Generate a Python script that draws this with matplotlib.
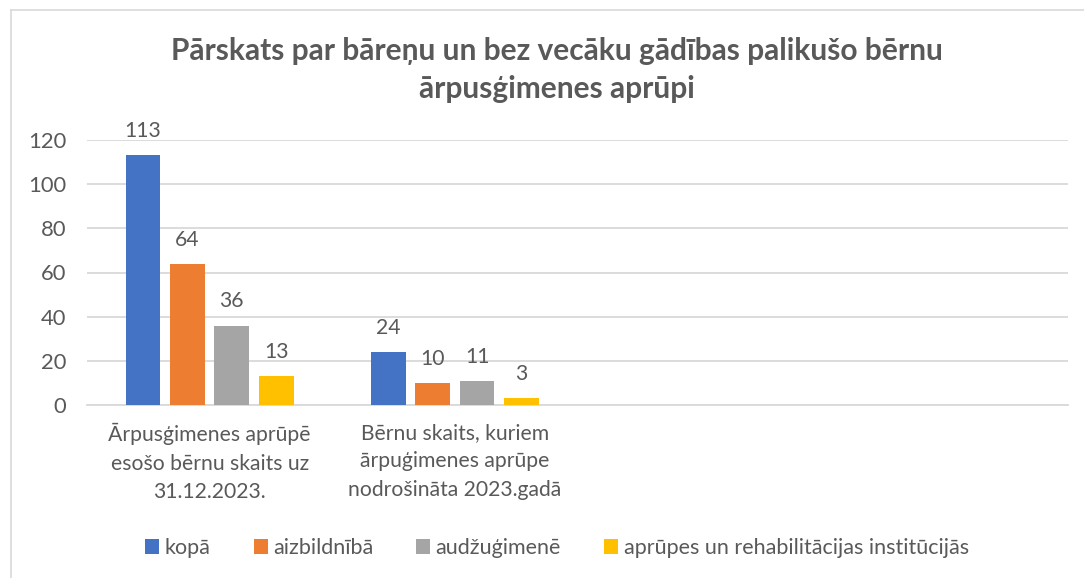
import matplotlib
matplotlib.use("Agg")
import matplotlib.pyplot as plt
from matplotlib.patches import Patch
from matplotlib.lines import Line2D
import numpy as np

plt.rcParams['font.family'] = ['Lato', 'DejaVu Sans']

title = "Pārskats par bāreņu un bez vecāku gādības palikušo bērnu\nārpusģimenes aprūpi"
categories = [
    "Ārpusģimenes aprūpē\nesošo bērnu skaits uz\n31.12.2023.",
    "Bērnu skaits, kuriem\nārpuģimenes aprūpe\nnodrošināta 2023.gadā",
]
series_names = ["kopā", "aizbildnībā", "audžuģimenē", "aprūpes un rehabilitācijas institūcijās"]
values_kopa = [113, 24]
values_aizbildniba = [64, 10]
values_audzugimene = [36, 11]
values_institucijas = [13, 3]
colors = ["#4472C4", "#ED7D31", "#A5A5A5", "#FFC000"]
yticks = [0, 20, 40, 60, 80, 100, 120]

series = [values_kopa, values_aizbildniba, values_audzugimene, values_institucijas]
TXT = "#595959"
W, H = 1084, 578
FS = 15.2

fig = plt.figure(figsize=(W / 100, H / 100), dpi=100)
ax = fig.add_axes([87 / W, 1 - 405 / H, (1068 - 87) / W, (405 - 140) / H])

x = np.arange(len(categories))
step = 0.181
bw = 0.142
for i, (vals, col) in enumerate(zip(series, colors)):
    pos = x + (i - 1.5) * step
    bars = ax.bar(pos, vals, width=bw, color=col, zorder=3)
    for b, v in zip(bars, vals):
        ax.annotate(str(v), (b.get_x() + b.get_width() / 2, v), xytext=(0, 13),
                    textcoords="offset points", ha="center", va="baseline",
                    fontsize=FS, color=TXT)

ax.set_xlim(-0.5, 3.5)
ax.set_ylim(0, 120)
ax.set_yticks(yticks)
ax.set_xticks(x)
ax.set_xticklabels(categories, fontsize=FS, color=TXT, linespacing=1.52)
ax.tick_params(axis='both', length=0, labelcolor=TXT)
ax.tick_params(axis='y', labelsize=15.8, pad=15)
ax.tick_params(axis='x', pad=13)
ax.grid(axis='y', color="#D9D9D9", linewidth=1.3, zorder=0)
for s in ["top", "right", "left"]:
    ax.spines[s].set_visible(False)
ax.spines["bottom"].set_color("#D9D9D9")
ax.spines["bottom"].set_linewidth(1.3)

fig.text(557 / W, 1 - 70 / H, title, ha="center", va="center", fontsize=21.5,
         fontweight="bold", color=TXT, linespacing=1.45)

handles = [Patch(facecolor=c, edgecolor='none') for c in colors]
fig.legend(handles, series_names, loc="center", bbox_to_anchor=(557 / W, 1 - 548 / H),
           ncol=4, frameon=False, fontsize=15.5, labelcolor=TXT,
           handlelength=0.65, handleheight=0.65, handletextpad=0.25, columnspacing=2.0)

# chart area border (cropped on right and bottom)
fig.add_artist(Line2D([10.5 / W, 10.5 / W], [0, 1 - 9.5 / H], transform=fig.transFigure,
                      color="#D9D9D9", linewidth=1.2))
fig.add_artist(Line2D([10.5 / W, 1], [1 - 9.5 / H, 1 - 9.5 / H], transform=fig.transFigure,
                      color="#D9D9D9", linewidth=1.2))

fig.savefig("out.png", dpi=100, facecolor="white")
